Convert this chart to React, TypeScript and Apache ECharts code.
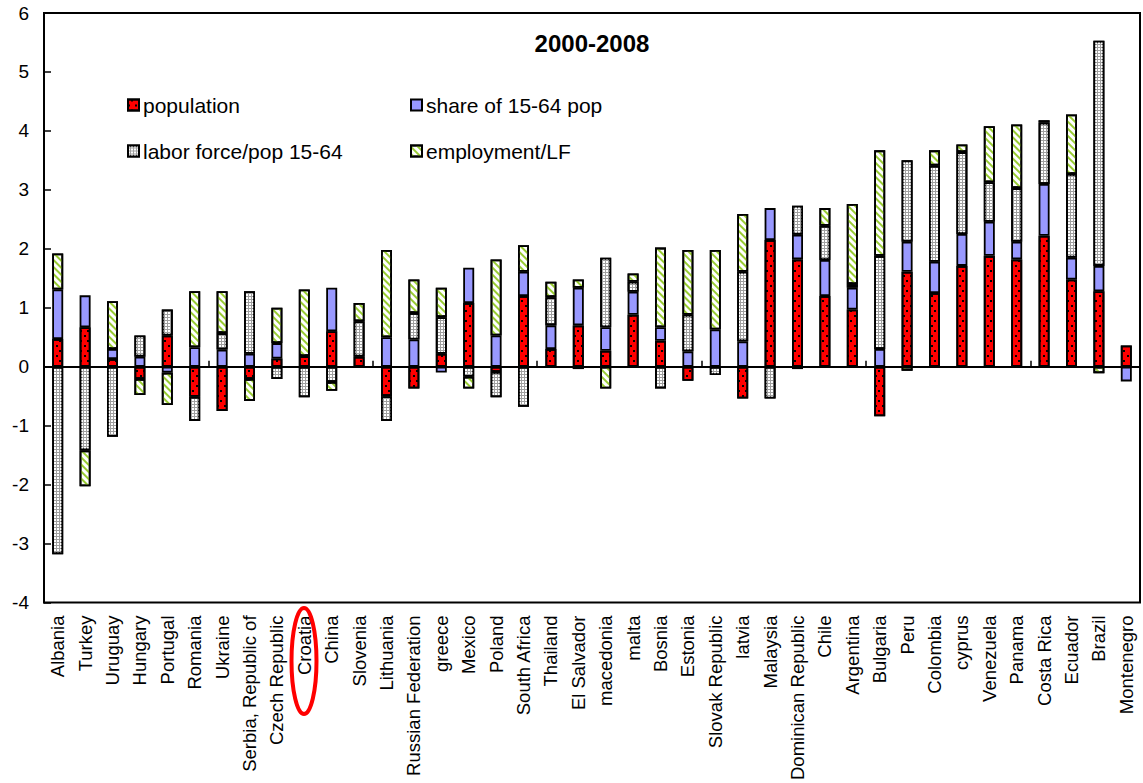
import React, { useEffect, useRef } from "react";
import * as echarts from "echarts";

const categories = [
  "Albania", "Turkey", "Uruguay", "Hungary", "Portugal", "Romania", "Ukraine",
  "Serbia, Republic of", "Czech Republic", "Croatia", "China", "Slovenia",
  "Lithuania", "Russian Federation", "greece", "Mexico", "Poland", "South Africa",
  "Thailand", "El Salvador", "macedonia", "malta", "Bosnia", "Estonia",
  "Slovak Republic", "latvia", "Malaysia", "Dominican Republic", "Chile",
  "Argentina", "Bulgaria", "Peru", "Colombia", "cyprus", "Venezuela", "Panama",
  "Costa Rica", "Ecuador", "Brazil", "Montenegro",
];

const population = [
  0.47, 0.67, 0.13, -0.21, 0.53, -0.51, -0.75, -0.21, 0.14, 0.18, 0.60, 0.17,
  -0.50, -0.37, 0.22, 1.08, -0.09, 1.20, 0.30, 0.70, 0.27, 0.88, 0.44, -0.24,
  0, -0.54, 2.15, 1.82, 1.20, 0.97, -0.84, 1.61, 1.25, 1.71, 1.88, 1.82,
  2.22, 1.48, 1.28, 0.36,
];

const shareOfWorkingAge = [
  0.84, 0.54, 0.17, 0.17, -0.10, 0.33, 0.29, 0.22, 0.26, 0, 0.74, 0,
  0.50, 0.46, -0.10, 0.60, 0.53, 0.41, 0.40, 0.64, 0.40, 0.39, 0.23, 0.26,
  0.63, 0.43, 0.54, 0.42, 0.61, 0.37, 0.30, 0.51, 0.53, 0.54, 0.58, 0.30,
  0.88, 0.37, 0.43, -0.25,
];

const laborForce = [
  -3.18, -1.42, -1.19, 0.36, 0.44, -0.41, 0.28, 1.06, -0.21, -0.52, -0.26, 0.60,
  -0.42, 0.45, 0.62, -0.17, -0.43, -0.68, 0.48, -0.04, 1.18, 0.17, -0.37, 0.62,
  -0.14, 1.18, -0.54, 0.49, 0.58, 0.06, 1.58, 1.38, 1.63, 1.39, 0.67, 0.91,
  1.04, 1.42, 3.82, 0,
];

const employment = [
  0.61, -0.61, 0.81, -0.27, -0.55, 0.95, 0.71, -0.37, 0.60, 1.13, -0.15, 0.31,
  1.48, 0.57, 0.50, -0.20, 1.29, 0.45, 0.26, 0.14, -0.37, 0.14, 1.35, 1.10,
  1.35, 0.98, 0, -0.04, 0.30, 1.36, 1.79, -0.07, 0.26, 0.13, 0.95, 1.08,
  0.04, 1.01, -0.11, 0,
];

const seriesNames = ["population", "share of 15-64 pop", "labor force/pop 15-64", "employment/LF"];
const yTicks = { min: -4, max: 6, interval: 1 };
const titleText = "2000-2008";

const FONT = "'Liberation Sans', Arial, sans-serif";

export default function App() {
  const ref = useRef<HTMLDivElement>(null);

  useEffect(() => {
    if (!ref.current) return;
    const chart = echarts.init(ref.current, undefined, { renderer: "svg" });
    const clean = (arr: number[]) => arr.map((v) => (v === 0 ? null : v));

    const border = { borderColor: "#000", borderWidth: 1.8 };
    const styles = [
      {
        color: "#FF0000",
        ...border,
        decal: {
          symbol: "rect",
          color: "#000",
          symbolSize: 1,
          dashArrayX: [[1.2, 4.8], [0, 3, 1.2, 1.8]],
          dashArrayY: [1.2, 2.8],
        },
      },
      { color: "#9999FF", ...border, decal: "none" },
      {
        color: "#a0a0a0",
        ...border,
        decal: {
          symbol: "rect",
          color: "#ffffff",
          symbolSize: 1,
          dashArrayX: [2, 1],
          dashArrayY: [2, 1],
        },
      },
      {
        color: "#ffffff",
        ...border,
        decal: {
          symbol: "rect",
          color: "#99CC33",
          symbolSize: 1,
          dashArrayX: [1, 0],
          dashArrayY: [1.6, 3],
          rotation: Math.PI / 4,
        },
      },
    ];

    const dataSets = [population, shareOfWorkingAge, laborForce, employment];

    const legendPos = [
      { left: 127, top: 94 },
      { left: 410, top: 94 },
      { left: 127, top: 140 },
      { left: 410, top: 140 },
    ];

    chart.setOption({
      animation: false,
      backgroundColor: "#ffffff",
      title: {
        text: titleText,
        left: 592,
        top: 31,
        textAlign: "center",
        padding: 0,
        textStyle: { fontFamily: FONT, fontSize: 24, fontWeight: "bold", color: "#000" },
      },
      legend: seriesNames.map((n, i) => ({
        data: [n],
        left: legendPos[i].left,
        top: legendPos[i].top,
        padding: 0,
        itemWidth: 11,
        itemHeight: 11,
        itemGap: 4,
        icon: "rect",
        selectedMode: false,
        textStyle: { fontFamily: FONT, fontSize: 21, color: "#000", lineHeight: 22, padding: [0, 0, 0, -1] },
      })),
      grid: {
        left: 44,
        right: 3,
        top: 13,
        bottom: 178,
        show: true,
        borderColor: "#000",
        borderWidth: 2,
        backgroundColor: "transparent",
        containLabel: false,
      },
      xAxis: [
        {
          type: "category",
          data: categories,
          position: "bottom",
          axisLine: { show: false, onZero: false },
          axisTick: { show: false },
          axisLabel: {
            interval: 0,
            rotate: 90,
            margin: 13,
            fontFamily: FONT,
            fontSize: 18.5,
            color: "#000",
          },
          splitLine: { show: false },
        },
        {
          type: "category",
          data: categories,
          position: "top",
          axisLine: { show: true, onZero: true, lineStyle: { color: "#000", width: 2 } },
          axisTick: { show: true, inside: false, length: 6, lineStyle: { color: "#000", width: 1.5 } },
          axisLabel: { show: false },
          splitLine: { show: false },
        },
      ],
      yAxis: {
        type: "value",
        min: yTicks.min,
        max: yTicks.max,
        interval: yTicks.interval,
        axisLine: { show: true, lineStyle: { color: "#000", width: 2 } },
        axisTick: { show: true, inside: true, length: 7, lineStyle: { color: "#000", width: 1.5 } },
        axisLabel: { fontFamily: FONT, fontSize: 19, color: "#000", margin: 15 },
        splitLine: { show: false },
      },
      series: seriesNames.map((n, i) => ({
        name: n,
        type: "bar",
        stack: "total",
        xAxisIndex: 0,
        barWidth: 11,
        data: clean(dataSets[i]),
        itemStyle: styles[i],
        emphasis: { disabled: true },
      })),
      graphic: [
        {
          type: "ellipse",
          shape: { cx: 304, cy: 661, rx: 12.5, ry: 53 },
          style: { fill: "none", stroke: "#FF0000", lineWidth: 4 },
          z: 100,
        },
      ],
    });

    return () => chart.dispose();
  }, []);

  return (
    <div
      ref={ref}
      style={{ position: "fixed", left: 0, top: 0, width: 1143, height: 783, background: "#fff" }}
    />
  );
}
